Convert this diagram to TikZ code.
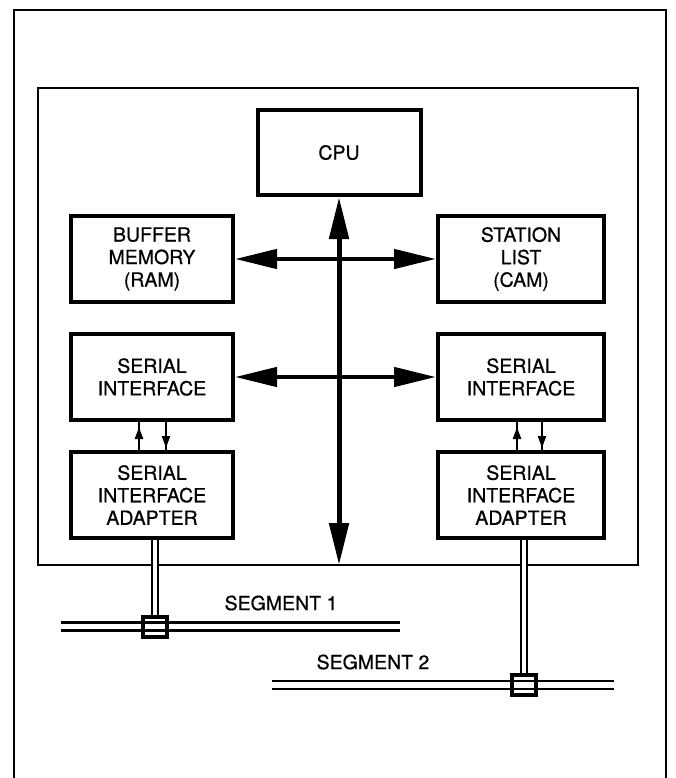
\documentclass[tikz,border=0pt]{standalone}
\usepackage{fontspec}
\setmainfont{TeX Gyre Heros}
\newfontfamily\diagfont{TeX Gyre Heros}[FakeBold=0.6]
\usetikzlibrary{arrows.meta}
\begin{document}
\begin{tikzpicture}[x=1pt,y=-1pt,
  txt/.style={font=\diagfont\fontsize{19.5}{22.5}\selectfont, align=center},
  box/.style={draw, line width=4pt, inner sep=0pt, txt, minimum height=86pt},
  lcol/.style={box, minimum width=162pt},
  rcol/.style={box, minimum width=166pt},
  bigtip/.tip={Triangle[length=42pt,width=19pt]},
  bus/.style={line width=5pt, bigtip-bigtip},
  harrow/.style={line width=4.5pt, bigtip-bigtip},
  thinline/.style={line width=2.2pt},
  smallarr/.style={line width=2.2pt, -{Triangle[length=12pt,width=8pt]}, shorten >=5pt},
  pipe/.style={line width=2pt, double=white, double distance=4pt},
  seg/.style={line width=2.3pt, double=white, double distance=5.5pt},
  tap/.style={draw, line width=4pt, minimum width=24pt, minimum height=20pt, inner sep=0pt},
  lbl/.style={txt, inner sep=0pt}
]
\useasboundingbox (0,0) rectangle (676,778);
% outer frame (open at the bottom)
\coordinate (o1) at (14,778);
\coordinate (o2) at (14,10);
\coordinate (o3) at (666,10);
\coordinate (o4) at (666,778);
\draw[line width=1.7pt] (o1) -- (o2) -- (o3) -- (o4);
% inner frame
\coordinate (i1) at (38,88);
\coordinate (i2) at (638,565);
\draw[line width=2.2pt] (i1) rectangle (i2);

% boxes
\node[box, minimum width=163pt, minimum height=85pt] (cpu) at (339,152.5) {CPU};
\node[lcol] (buf) at (152,259) {BUFFER\\MEMORY\\(RAM)};
\node[rcol] (sta) at (521,259) {STATION\\LIST\\(CAM)};
\node[lcol] (sil) at (152,377) {SERIAL\\INTERFACE};
\node[rcol] (sir) at (521,377) {SERIAL\\INTERFACE};
\node[lcol] (sial) at (152,495) {SERIAL\\INTERFACE\\ADAPTER};
\node[rcol] (siar) at (521,495) {SERIAL\\INTERFACE\\ADAPTER};

% bus
\coordinate (busbot) at (339,565);
\draw[bus] (cpu.south) -- (busbot);
\draw[harrow] (buf.east) -- (sta.west);
\draw[harrow] (sil.east) -- (sir.west);

% small arrows between serial interface and adapter
\draw[thinline] ([xshift=-13pt]sial.north) -- ([xshift=-13pt]sil.south);
\draw[smallarr] ([xshift=-13pt]sial.north) -- ([xshift=-13pt]sil.south);
\draw[thinline] ([xshift=14pt]sil.south) -- ([xshift=14pt]sial.north);
\draw[smallarr, shorten >=2pt] ([xshift=14pt]sil.south) -- ([xshift=14pt]sial.north);
\draw[thinline] ([xshift=-4pt]siar.north) -- ([xshift=-4pt]sir.south);
\draw[smallarr] ([xshift=-4pt]siar.north) -- ([xshift=-4pt]sir.south);
\draw[thinline] ([xshift=21pt]sir.south) -- ([xshift=21pt]siar.north);
\draw[smallarr, shorten >=2pt] ([xshift=21pt]sir.south) -- ([xshift=21pt]siar.north);

% segments
\coordinate (s1a) at (61,626.5);
\coordinate (s1b) at (400,626.5);
\coordinate (s2a) at (272,685);
\coordinate (s2b) at (614,685);
\draw[seg] (s1a) -- (s1b);
\draw[seg] (s2a) -- (s2b);
\node[tap] (tap1) at (155,626.5) {};
\node[tap] (tap2) at (524,685) {};
\draw[pipe] ([xshift=3pt]sial.south) -- (tap1.north);
\draw[pipe] ([xshift=3pt]siar.south) -- (tap2.north);

\node[lbl] (seg1) at (281,603) {SEGMENT 1};
\node[lbl] (seg2) at (373,662) {SEGMENT 2};
\end{tikzpicture}
\end{document}
